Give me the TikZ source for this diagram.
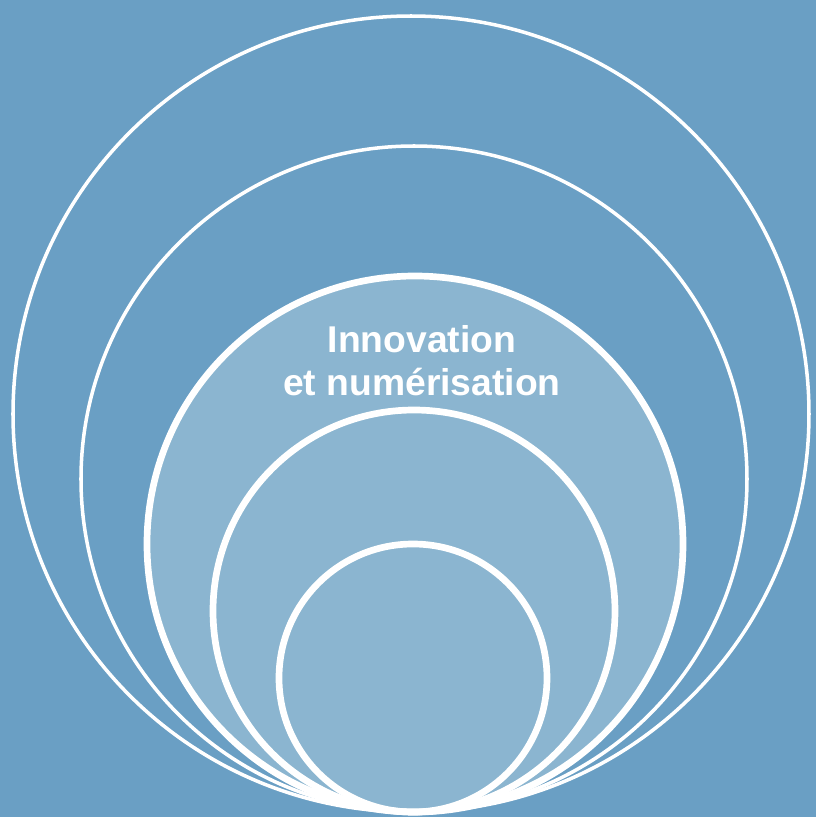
\documentclass[tikz,border=0pt]{standalone}
\usepackage{fontspec}
\setmainfont{Liberation Sans}
\definecolor{bgblue}{RGB}{106,159,196}
\definecolor{coreblue}{RGB}{139,181,208}
\begin{document}
\begin{tikzpicture}[x=0.01cm, y=0.01cm,
    ring/.style={draw=white, line width=1pt},
    corering/.style={draw=white, line width=1.9pt},
    label/.style={text=white, font=\fontsize{10.6}{12.6}\selectfont\bfseries, anchor=base, inner sep=0pt}]
    \fill[bgblue] (0,0) rectangle (816,817);
    
    \draw[ring] (411,403) circle (398);
    \draw[ring] (414,338) circle (333);
    
    \draw[corering, fill=coreblue] (415,273) circle (268);
    \draw[corering] (414,206) circle (201);
    \draw[corering] (413,139) circle (134);
    
    \node[label] (title1) at (422,465) {Innovation};
    \node[label] (title2) at (422,422) {et numérisation};
\end{tikzpicture}
\end{document}
